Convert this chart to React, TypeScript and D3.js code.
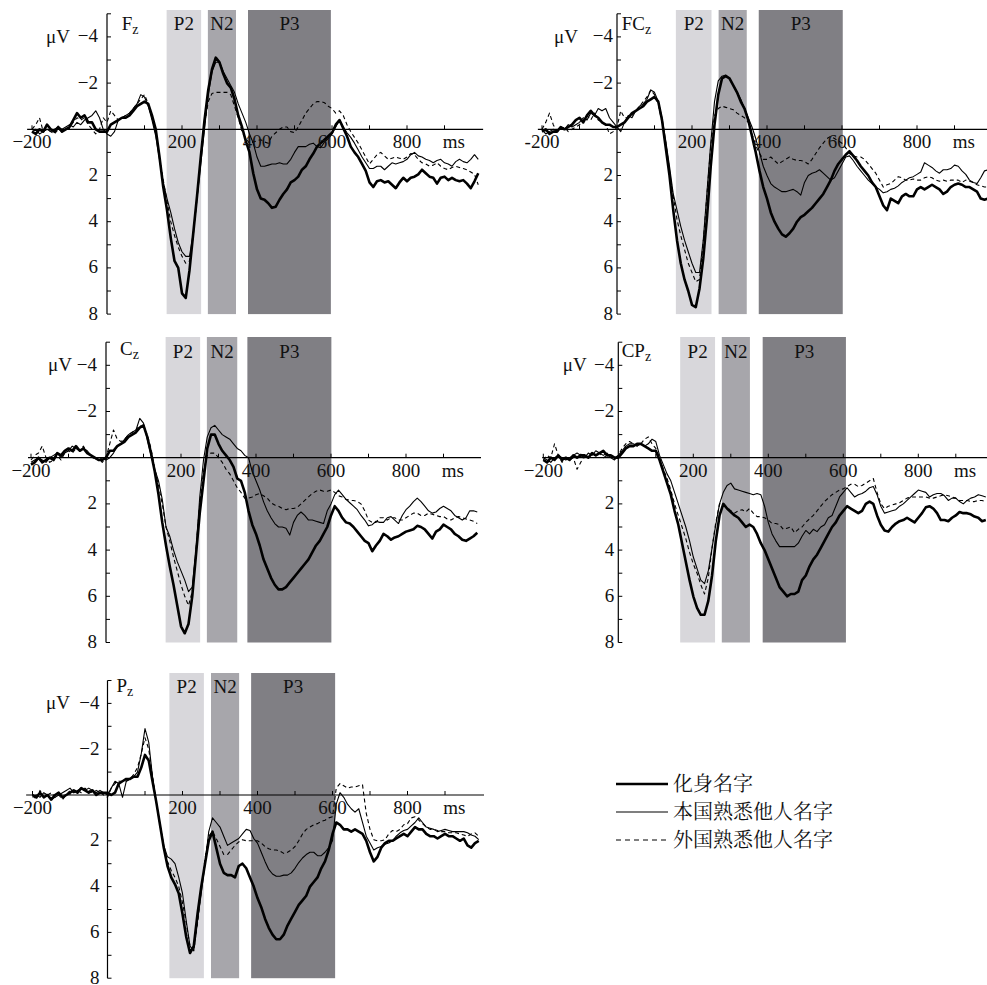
import * as d3 from "d3";

// sample grid of the averaged waveforms (ms)
const sampleTimes = d3.range(-200, 1000, 10);

const conditions = ["化身名字", "本国熟悉他人名字", "外国熟悉他人名字"];
const yTickLabels = [-4, -2, 2, 4, 6, 8];
const xTickLabels = [-200, 200, 400, 600, 800];
const bandNames = ["P2", "N2", "P3"];

// ---- Fz ----
const fzAvatar = [
  0.1, 0.2, 0.0, 0.1, -0.2, 0.0, 0.1, -0.1, 0.1, 0.0,
  -0.1, -0.4, -0.7, -0.5, -0.6, -0.3, -0.3, 0.0, 0.1, 0.1,
  0.1, -0.2, -0.3, -0.4, -0.5, -0.5, -0.6, -0.8, -1.0, -1.1,
  -1.2, -1.1, -0.6, 0.0, 1.2, 2.5, 3.5, 4.7, 5.7, 6.0,
  7.1, 7.3, 6.1, 4.5, 2.9, 1.2, -0.4, -1.7, -2.6, -3.1,
  -2.9, -2.4, -2.0, -1.8, -1.3, -0.6, -0.1, 0.5, 1.0, 1.9,
  2.6, 3.0, 3.05, 3.2, 3.4, 3.35, 3.05, 2.8, 2.6, 2.3,
  2.2, 2.05, 1.75, 1.6, 1.3, 1.05, 0.75, 0.6, 0.45, 0.3,
  0.15, -0.2, -0.4, -0.05, 0.3, 0.75, 1.0, 1.2, 1.5, 1.8,
  2.3, 2.5, 2.25, 2.2, 2.3, 2.25, 2.4, 2.55, 2.3, 2.1,
  2.25, 2.1, 2.05, 1.95, 1.75, 1.9, 2.05, 2.1, 2.35, 2.1,
  2.05, 2.2, 2.1, 2.2, 2.25, 2.2, 2.35, 2.55, 2.25, 1.9,
];
const fzNative = [
  0.1, 0.0, 0.2, 0.1, 0.0, 0.1, 0.0, -0.1, 0.0, -0.1,
  -0.2, -0.1, -0.3, -0.2, -0.4, -0.5, -0.6, -0.8, -0.5, 0.0,
  0.2, 0.3, 0.1, -0.4, -0.5, -0.6, -0.7, -0.9, -1.1, -1.5,
  -1.4, -1.0, -0.4, 0.3, 1.3, 2.3, 3.0, 3.6, 4.3, 4.9,
  5.3, 5.5, 5.5, 4.5, 3.0, 1.5, 0.0, -1.5, -2.5, -2.9,
  -2.9, -2.5, -2.2, -1.9, -1.6, -1.1, -0.7, -0.3, 0.2, 0.6,
  1.2, 1.6, 1.6, 1.55, 1.5, 1.5, 1.45, 1.5, 1.5, 1.3,
  1.0, 0.75, 0.75, 0.75, 0.65, 0.6, 0.75, 0.8, 0.55, 0.4,
  0.2, -0.1, -0.4, -0.1, 0.15, 0.35, 0.6, 0.9, 1.2, 1.45,
  1.7, 1.7, 1.6, 1.6, 1.75, 1.6, 1.45, 1.5, 1.45, 1.4,
  1.3, 1.1, 1.0, 1.15, 1.2, 1.3, 1.35, 1.45, 1.35, 1.3,
  1.45, 1.5, 1.6, 1.4, 1.3, 1.4, 1.45, 1.3, 1.1, 1.3,
];
const fzForeign = [
  0.0, -0.2, -0.5, 0.1, 0.0, 0.1, 0.2, 0.0, 0.1, 0.0,
  -0.1, -0.3, -0.5, -0.4, -0.5, -0.2, 0.0, 0.2, 0.0, -0.5,
  -0.3, -0.8, -0.6, -0.4, -0.5, -0.6, -0.7, -0.9, -1.1, -1.3,
  -1.5, -1.1, -0.5, 0.2, 1.2, 2.2, 3.1, 4.0, 4.6, 5.1,
  5.5, 5.8, 5.7, 4.6, 3.0, 1.3, -0.2, -1.2, -1.55, -1.6,
  -1.6, -1.6, -1.6, -1.5, -1.0, -0.5, 0.1, 0.4, 0.6, 0.55,
  0.5, 0.45, 0.55, 0.6, 0.3, 0.15, 0.0, -0.1, -0.1, 0.1,
  0.15, -0.1, -0.4, -0.7, -0.9, -1.1, -1.2, -1.2, -1.15, -1.0,
  -0.9, -0.7, -0.8, -0.6, -0.2, 0.1, 0.35, 0.6, 0.9, 1.2,
  1.5, 1.3, 1.1, 1.0, 1.15, 1.3, 1.25, 1.2, 1.25, 1.3,
  1.2, 1.05, 1.1, 1.3, 1.45, 1.5, 1.6, 1.55, 1.45, 1.6,
  1.7, 1.75, 1.65, 1.6, 1.65, 1.7, 1.75, 1.85, 1.95, 2.4,
];

// ---- FCz ----
const fczAvatar = [
  0.1, 0.0, 0.2, 0.1, 0.1, -0.1, 0.0, -0.1, -0.2, -0.4,
  -0.5, -0.3, -0.6, -0.8, -0.6, -0.5, -0.3, -0.2, -0.2, -0.1,
  -0.1, -0.2, -0.3, -0.5, -0.7, -0.8, -0.9, -1.0, -1.2, -1.3,
  -1.4, -1.2, -0.4, 0.8, 2.0, 3.5, 4.8, 5.8, 6.5, 7.0,
  7.6, 7.7, 6.9, 5.6, 3.8, 1.6, -0.2, -1.5, -2.2, -2.3,
  -2.2, -1.9, -1.6, -1.2, -0.9, -0.4, 0.3, 1.0, 1.8, 2.5,
  3.0, 3.6, 4.0, 4.3, 4.55, 4.65, 4.5, 4.3, 4.0, 3.8,
  3.7, 3.55, 3.4, 3.2, 3.0, 2.8, 2.5, 2.2, 1.8, 1.5,
  1.3, 1.1, 0.95, 1.15, 1.35, 1.6, 1.8, 2.0, 2.3, 2.5,
  2.9, 3.3, 3.5, 3.0, 3.1, 3.2, 2.9, 2.8, 2.9, 2.9,
  2.6, 2.5, 2.6, 2.5, 2.4, 2.5, 2.6, 2.8, 2.7, 2.5,
  2.4, 2.35, 2.4, 2.5, 2.5, 2.6, 2.7, 3.0, 3.05, 3.0,
];
const fczNative = [
  0.0, 0.2, 0.1, 0.0, 0.1, -0.1, 0.0, -0.2, -0.1, -0.2,
  -0.3, -0.5, -0.4, -0.7, -0.6, -0.9, -0.8, -0.9, -0.5, -0.3,
  -0.1, 0.1, -0.3, -0.6, -0.5, -0.8, -1.0, -1.1, -1.3, -1.7,
  -1.6, -1.2, -0.5, 0.5, 1.6, 2.8, 3.5, 4.2, 4.8, 5.3,
  5.8, 6.2, 6.2, 4.8, 2.7, 0.6, -1.2, -2.1, -2.3, -2.35,
  -2.2, -1.9, -1.6, -1.3, -0.9, -0.5, -0.1, 0.4, 1.0, 1.6,
  2.0, 2.35, 2.5, 2.6, 2.7, 2.7, 2.65, 2.6, 2.7, 2.85,
  2.3, 2.0, 1.9, 1.85, 1.75, 1.9, 2.05, 2.2, 2.1, 1.8,
  1.5, 1.2, 1.15, 1.35, 1.6, 1.8, 2.0, 2.2, 2.35, 2.5,
  2.6, 2.75, 2.7, 2.6, 2.55, 2.45, 2.3, 2.2, 2.1, 2.05,
  1.95, 1.85, 1.45, 1.55, 1.65, 1.8, 1.9, 1.75, 1.75, 1.7,
  1.55, 1.6, 1.8, 1.95, 2.2, 2.3, 2.35, 2.1, 1.8, 1.75,
];
const fczForeign = [
  0.0, -0.3, -0.7, -0.2, 0.1, 0.0, -0.1, 0.1, 0.0, -0.1,
  -0.2, -0.4, -0.6, -0.4, -0.7, -0.4, -0.3, -0.2, 0.2, 0.1,
  -0.1, -0.8, -0.5, -0.5, -0.6, -0.8, -1.0, -1.2, -1.4, -1.7,
  -1.5, -1.1, -0.3, 0.6, 1.8, 2.9, 3.9, 4.6, 5.2, 5.8,
  6.2, 6.6, 6.5, 4.9, 2.8, 0.7, -0.6, -0.9, -1.0, -0.95,
  -0.9, -0.85, -0.7, -0.6, -0.5, -0.3, 0.2, 0.7, 1.05, 1.3,
  1.3, 1.2, 1.35, 1.5, 1.4, 1.3, 1.2, 1.3, 1.35, 1.35,
  1.4, 1.5, 1.3, 1.05, 0.8, 0.6, 0.4, 0.3, 0.4, 0.5,
  0.6, 0.8, 1.05, 1.15, 1.2, 1.2, 1.3, 1.5, 1.7, 1.9,
  2.2, 2.5, 2.4, 2.35, 2.2, 2.05, 2.1, 2.2, 2.2, 2.15,
  2.2, 2.2, 2.1, 2.05, 2.1, 2.2, 2.25, 2.2, 2.25, 2.2,
  2.2, 2.2, 2.3, 2.2, 2.25, 2.3, 2.4, 2.45, 2.5, 2.5,
];

// ---- Cz ----
const czAvatar = [
  0.3, 0.2, 0.0, 0.2, 0.1, 0.0, 0.1, -0.2, -0.1, -0.3,
  -0.4, -0.3, -0.5, -0.3, -0.4, -0.2, -0.1, 0.0, 0.1, 0.1,
  0.0, -0.3, -0.3, -0.5, -0.6, -0.7, -0.9, -1.0, -1.1, -1.3,
  -1.4, -0.9, -0.2, 0.6, 1.6, 2.8, 3.8, 4.7, 5.5, 6.4,
  7.3, 7.6, 7.2, 6.0, 4.2, 2.4, 1.0, -0.4, -1.0, -1.0,
  -0.6, -0.3, -0.1, 0.1, 0.4, 0.9, 1.0, 1.5, 2.3, 2.9,
  3.3, 3.8, 4.4, 4.8, 5.2, 5.5, 5.7, 5.7, 5.6, 5.4,
  5.2, 5.0, 4.8, 4.6, 4.4, 4.1, 3.8, 3.6, 3.3, 3.0,
  2.5, 2.1, 2.3, 2.6, 2.8, 2.85, 3.0, 3.2, 3.4, 3.6,
  3.7, 4.05, 3.8, 3.6, 3.3, 3.4, 3.55, 3.45, 3.4, 3.3,
  3.2, 3.15, 3.1, 2.95, 3.0, 3.1, 3.3, 3.5, 3.2, 3.1,
  2.9, 3.0, 3.1, 3.3, 3.4, 3.55, 3.6, 3.5, 3.4, 3.25,
];
const czNative = [
  0.2, 0.1, 0.0, 0.1, 0.2, 0.0, -0.1, -0.2, 0.0, -0.2,
  -0.3, -0.5, -0.4, -0.3, -0.4, -0.3, -0.1, 0.0, 0.1, 0.0,
  0.1, 0.0, -0.2, -0.5, -0.6, -0.8, -1.0, -1.1, -1.2, -1.7,
  -1.5, -0.8, -0.1, 0.5, 1.0, 1.8, 3.0, 3.4, 4.0, 4.5,
  4.9, 5.3, 5.8, 5.6, 4.0, 1.7, 0.1, -0.9, -1.3, -1.4,
  -1.2, -1.0, -0.9, -0.8, -0.6, -0.4, -0.3, -0.1, 0.0, 0.6,
  1.0, 1.4, 1.9, 2.3, 2.6, 2.85, 3.0, 3.0, 3.05, 3.35,
  2.8, 2.5, 2.35, 2.5, 2.7, 2.7, 2.75, 2.8, 2.85, 2.3,
  2.0, 1.6, 1.4, 1.6, 1.8, 1.95, 2.1, 2.25, 2.5, 2.7,
  2.95, 2.9, 2.75, 2.8, 2.8, 2.6, 2.55, 2.7, 2.85, 2.5,
  2.25, 2.1, 1.9, 1.75, 1.9, 2.1, 2.3, 2.4, 2.35, 2.2,
  2.1, 2.2, 2.3, 2.5, 2.6, 2.7, 2.6, 2.3, 2.3, 2.35,
];
const czForeign = [
  0.1, -0.1, -0.2, -0.5, 0.0, 0.2, 0.1, -0.1, 0.1, -0.2,
  -0.3, -0.2, -0.4, -0.3, -0.5, -0.2, -0.1, 0.1, 0.0, 0.2,
  0.0, -0.6, -1.2, -0.8, -0.7, -0.8, -1.0, -1.1, -1.2, -1.4,
  -1.3, -1.0, -0.4, 0.5, 1.2, 2.0, 3.0, 3.6, 4.3, 4.9,
  5.5, 6.0, 6.4, 5.8, 4.0, 2.0, 0.6, -0.1, -0.2, -0.2,
  0.0, 0.2, 0.5, 0.7, 1.0, 1.3, 1.5, 1.75, 1.75, 1.7,
  1.6, 1.55, 1.65, 1.75, 1.95, 2.05, 2.1, 2.2, 2.25, 2.2,
  2.2, 2.15, 2.0, 1.85, 1.7, 1.55, 1.45, 1.4, 1.45, 1.45,
  1.4, 1.5, 1.65, 1.7, 1.8, 1.85, 1.85, 1.9, 2.0, 2.3,
  2.7, 2.8, 2.8, 2.6, 2.6, 2.7, 2.6, 2.6, 2.7, 2.7,
  2.6, 2.5, 2.4, 2.4, 2.5, 2.5, 2.4, 2.45, 2.5, 2.55,
  2.55, 2.65, 2.7, 2.6, 2.55, 2.6, 2.65, 2.7, 2.75, 2.85,
];

// ---- CPz ----
const cpzAvatar = [
  0.1, 0.2, 0.0, 0.1, -0.1, 0.1, 0.0, 0.1, -0.1, 0.0,
  -0.1, -0.1, 0.0, -0.2, -0.1, -0.2, -0.3, -0.1, -0.1, 0.0,
  0.0, -0.2, -0.4, -0.5, -0.5, -0.6, -0.6, -0.5, -0.4, -0.3,
  -0.3, 0.1, 0.6, 1.1, 1.6, 2.3, 2.9, 3.7, 4.5, 5.3,
  6.0, 6.5, 6.8, 6.8, 6.2, 5.1, 3.6, 2.5, 2.0, 2.2,
  2.35, 2.5, 2.6, 2.8, 3.0, 2.9, 3.0, 3.3, 3.7, 4.0,
  4.4, 4.8, 5.2, 5.6, 5.8, 6.0, 5.9, 5.9, 5.8, 5.3,
  5.1, 4.7, 4.4, 4.2, 3.9, 3.6, 3.3, 3.0, 2.8, 2.5,
  2.3, 2.1, 2.2, 2.3, 2.4, 2.3, 2.0, 1.9, 2.0, 2.5,
  2.9, 3.15, 3.2, 3.0, 2.85, 2.75, 2.7, 2.6, 2.7, 2.8,
  2.6, 2.4, 2.15, 2.1, 2.2, 2.4, 2.7, 2.7, 2.75, 2.6,
  2.5, 2.35, 2.4, 2.4, 2.45, 2.55, 2.6, 2.75, 2.7,
];
const cpzNative = [
  0.0, 0.1, 0.2, 0.0, -0.1, 0.0, 0.1, 0.0, -0.1, -0.2,
  -0.1, 0.0, -0.2, -0.1, -0.3, -0.2, -0.1, -0.2, 0.0, 0.1,
  -0.1, -0.3, -0.5, -0.6, -0.6, -0.5, -0.6, -0.5, -0.6, -0.8,
  -0.7, -0.1, 0.3, 0.7, 1.0, 1.5, 2.0, 2.5, 3.0, 3.6,
  4.3, 4.8, 5.3, 5.45, 4.9, 3.9, 2.9, 2.0, 1.5, 1.2,
  1.1, 1.35, 1.4, 1.45, 1.5, 1.55, 1.6, 1.55, 1.6, 2.1,
  2.8, 3.3, 3.6, 3.85, 3.85, 3.85, 3.85, 3.85, 3.7, 3.4,
  3.15, 3.3, 3.1, 3.2, 3.0, 2.9, 2.6, 2.5, 2.1, 1.7,
  1.5, 1.3, 1.5, 1.7, 1.6, 1.55, 1.45, 1.3, 1.25, 1.6,
  2.1, 2.4, 2.35, 2.3, 2.25, 2.1, 2.0, 1.85, 1.7, 1.55,
  1.4, 1.45, 1.5, 1.7, 1.6, 1.55, 1.55, 1.65, 1.85, 1.75,
  1.75, 1.9, 2.0, 1.85, 1.75, 1.7, 1.6, 1.65, 1.7,
];
const cpzForeign = [
  0.1, -0.1, 0.0, -0.6, -0.1, 0.2, 0.0, 0.1, 0.0, 0.5,
  0.2, -0.1, 0.0, -0.2, -0.1, -0.2, 0.0, -0.1, -0.1, 0.0,
  -0.1, -0.4, -0.6, -0.7, -0.6, -0.5, -0.6, -0.8, -0.9, -0.6,
  -0.4, 0.0, 0.5, 0.9, 1.4, 2.0, 2.5, 3.0, 3.5, 4.1,
  4.6, 5.0, 5.5, 5.9, 5.2, 3.9, 2.8, 2.0, 2.0, 2.15,
  2.3, 2.4, 2.3, 2.25, 2.35, 2.2, 2.4, 2.55, 2.55, 2.6,
  2.7, 2.85, 2.85, 2.9, 3.1, 3.05, 3.0, 3.25, 3.1, 3.0,
  2.8, 2.65, 2.5, 2.3, 2.1, 1.9, 1.75, 1.6, 1.5, 1.4,
  1.35, 1.25, 1.15, 1.15, 1.25, 1.2, 1.1, 1.0, 0.9, 1.5,
  2.0, 2.2, 2.1, 2.05, 2.0, 1.95, 1.85, 1.75, 1.7, 1.7,
  1.7, 1.7, 1.7, 1.75, 1.75, 1.7, 1.65, 1.6, 1.65, 1.7,
  1.75, 1.85, 1.85, 1.85, 1.9, 1.9, 1.85, 1.85, 1.9,
];

// ---- Pz ----
const pzAvatar = [
  0.0, 0.1, -0.1, 0.1, 0.0, 0.2, 0.0, -0.1, 0.1, 0.0,
  -0.1, -0.2, -0.1, -0.3, -0.2, -0.1, -0.2, 0.0, -0.1, -0.1,
  -0.1, 0.0, -0.1, -0.5, -0.6, -0.7, -0.7, -0.8, -0.8, -1.2,
  -1.75, -1.5, -0.6, 0.3, 1.3, 2.3, 3.1, 3.6, 3.9, 4.3,
  5.2, 6.2, 6.9, 6.6, 5.2, 4.0, 3.0, 2.0, 1.6, 2.3,
  3.0, 3.4, 3.5, 3.5, 3.6, 3.1, 3.0, 3.2, 3.6, 4.0,
  4.5, 4.9, 5.4, 5.8, 6.1, 6.3, 6.3, 6.1, 5.7, 5.4,
  5.1, 4.8, 4.6, 4.4, 4.0, 3.8, 3.6, 3.2, 2.9, 2.4,
  1.7, 1.2, 1.3, 1.5, 1.5, 1.6, 1.5, 1.6, 1.7, 2.0,
  2.5, 2.9, 2.7, 2.3, 2.1, 2.0, 2.0, 1.9, 1.8, 1.7,
  1.8, 1.6, 1.4, 1.5, 1.5, 1.7, 1.8, 1.8, 1.9, 1.8,
  1.7, 1.8, 1.8, 1.9, 2.0, 1.9, 2.2, 2.3, 2.1, 2.0,
];
const pzNative = [
  0.1, 0.0, 0.1, -0.1, 0.0, 0.2, 0.1, 0.0, -0.1, -0.2,
  -0.3, -0.1, -0.2, -0.3, -0.2, -0.3, -0.2, -0.1, -0.2, -0.1,
  0.0, -0.3, -0.6, -0.5, 0.1, -0.6, -0.7, -0.8, -1.0, -1.8,
  -2.9, -2.3, -0.8, 0.3, 1.3, 2.2, 2.7, 2.8, 3.0, 3.6,
  4.3, 5.5, 6.6, 6.8, 5.5, 4.3, 3.0, 1.6, 1.0, 1.2,
  1.4, 1.8, 2.2, 2.1, 2.0, 1.9, 1.7, 1.5, 1.55, 1.9,
  2.1, 2.5, 2.9, 3.25, 3.45, 3.55, 3.55, 3.5, 3.5, 3.4,
  3.2, 2.95, 2.75, 2.6, 2.5, 2.5, 2.65, 2.65, 2.5, 2.3,
  2.0, 0.4, -0.1, 0.1, 0.4, 0.6, 0.75, 0.6, 1.2, 1.8,
  2.1, 2.4, 2.3, 2.25, 2.15, 2.1, 2.0, 1.8, 1.65, 1.55,
  1.5, 1.35, 1.2, 1.0, 1.2, 1.4, 1.45, 1.5, 1.6, 1.55,
  1.5, 1.55, 1.6, 1.6, 1.6, 1.6, 1.65, 1.75, 1.8, 1.95,
];
const pzForeign = [
  0.0, 0.2, -0.2, 0.1, 0.0, -0.1, 0.1, 0.0, 0.2, 0.0,
  -0.2, -0.1, -0.2, -0.1, -0.3, -0.2, -0.1, -0.2, -0.1, 0.0,
  0.1, -0.3, -0.5, -0.6, -0.6, -0.6, -0.7, -0.9, -1.2, -1.8,
  -2.5, -2.0, -0.8, 0.3, 1.3, 2.3, 2.9, 3.3, 3.6, 4.0,
  4.7, 5.6, 6.6, 6.8, 5.6, 4.1, 2.8, 1.8, 1.6, 1.9,
  2.25, 2.6, 2.6, 2.4, 2.2, 2.05, 1.95, 2.0, 2.0, 2.0,
  2.0, 2.1, 2.25, 2.35, 2.4, 2.4, 2.45, 2.55, 2.5, 2.4,
  2.25, 2.0, 1.7, 1.5, 1.4, 1.3, 1.25, 1.15, 1.1, 1.0,
  0.95, -0.3, -0.5, -0.4, -0.3, -0.35, -0.35, -0.4, -0.45, 0.8,
  1.5, 1.95, 2.0, 2.0, 1.95, 1.7, 1.55, 1.6, 1.5, 1.3,
  1.25, 1.0, 0.95, 1.1, 1.25, 1.4, 1.5, 1.5, 1.55, 1.6,
  1.6, 1.65, 1.65, 1.65, 1.7, 1.75, 1.8, 1.7, 1.65, 1.8,
];

// component windows (ms) per electrode: P2, N2, P3
const fzBands = [[159, 251], [269, 344], [376, 597]];
const fczBands = [[157, 252], [271, 346], [378, 602]];
const czBands = [[159, 251], [269, 350], [377, 601]];
const cpzBands = [[165, 258], [276, 351], [385, 607]];
const pzBands = [[165, 257], [276, 351], [383, 607]];

// layout: x0 = pixel of 0 ms, y0 = pixel of 0 µV
const panels = [
  { el: "F", sub: "z", x0: 107, y0: 129.3, ys: 23.1, top: 10, xFrom: -213, xTo: 1003, bands: fzBands, series: [fzAvatar, fzNative, fzForeign], uvEnd: 37, gap: 9, labX: 14.7, labDy: 16, bandDy: 16, neg: "−" },
  { el: "FC", sub: "z", x0: 617, y0: 129.3, ys: 23.1, top: 10, xFrom: -211, xTo: 1000, bands: fczBands, series: [fczAvatar, fczNative, fczForeign], uvEnd: 39, gap: 4, labX: 4.7, labDy: 16, bandDy: 16, neg: "-" },
  { el: "C", sub: "z", x0: 106, y0: 457.7, ys: 23.1, top: 337, xFrom: -208, xTo: 1000, bands: czBands, series: [czAvatar, czNative, czForeign], uvEnd: 34, gap: 9, labX: 14, labDy: 13, bandDy: 16, neg: "−" },
  { el: "CP", sub: "z", x0: 618.3, y0: 457.7, ys: 23.1, top: 337, xFrom: -203, xTo: 1000, bands: cpzBands, series: [cpzAvatar, cpzNative, cpzForeign], uvEnd: 31.6, gap: 4, labX: 3.4, labDy: 14.5, bandDy: 16, neg: "−" },
  { el: "P", sub: "z", x0: 107.5, y0: 795, ys: 22.9, top: 673, xFrom: -217, xTo: 1004, bands: pzBands, series: [pzAvatar, pzNative, pzForeign], uvEnd: 37.5, gap: 8, labX: 9, labDy: 11, bandDy: 12.5, neg: "−" },
];

const bandFill = ["#d8d7db", "#a7a6ab", "#807f84"];
const lineStyle = [
  { w: 2.6, dash: "" },
  { w: 1.1, dash: "" },
  { w: 1.1, dash: "4,3" },
];
const serif = "Liberation Serif, Times New Roman, serif";
const fs = 19;

const Panel = ({ p }: { p: (typeof panels)[number] }) => {
  const x = d3.scaleLinear().domain([0, 1000]).range([p.x0, p.x0 + 375]);
  const y = d3.scaleLinear().domain([-5, 8]).range([p.y0 - 5 * p.ys, p.y0 + 8 * p.ys]);
  const line = d3
    .line<number>()
    .x((_, i) => x(sampleTimes[i]))
    .y((v) => y(v));
  const right = Math.min(x(p.xTo), 987);
  const xTicks = d3.range(-200, 1000, 100).filter((t) => t !== 0 && x(t) < right - 2);
  const yTicks = d3.range(-5, 9, 1);
  return (
    <g>
      {p.bands.map((b, i) => (
        <g key={i}>
          <rect x={x(b[0])} y={p.top} width={x(b[1]) - x(b[0])} height={y(8) - p.top} fill={bandFill[i]} />
          <text x={(x(b[0]) + x(b[1])) / 2} y={y(-5) + p.bandDy} textAnchor="middle" fontSize={fs} fontFamily={serif} fill="#111">
            {bandNames[i]}
          </text>
        </g>
      ))}
      {/* axes */}
      <line x1={x(p.xFrom)} x2={right} y1={y(0)} y2={y(0)} stroke="#000" strokeWidth={1.2} />
      <line x1={x(0)} x2={x(0)} y1={y(-5)} y2={y(8)} stroke="#000" strokeWidth={1.2} />
      {xTicks.map((t) => (
        <line key={t} x1={x(t)} x2={x(t)} y1={y(0)} y2={y(0) - 4} stroke="#000" />
      ))}
      {yTicks.map((t) => (
        <line key={t} x1={x(0)} x2={x(0) + 4} y1={y(t)} y2={y(t)} stroke="#000" />
      ))}
      {p.series.map((s, i) => (
        <path
          key={i}
          d={line(s) ?? ""}
          fill="none"
          stroke="#000"
          strokeWidth={lineStyle[i].w}
          strokeDasharray={lineStyle[i].dash || undefined}
          strokeLinejoin="round"
        />
      ))}
      {/* tick labels */}
      {yTickLabels.map((t) => (
        <text key={t} x={x(0) - p.gap} y={y(t) + 5.5} textAnchor="end" fontSize={fs} fontFamily={serif} fill="#111">
          {t < 0 ? `−${-t}` : t}
        </text>
      ))}
      {xTickLabels.map((t) => (
        <text key={t} x={x(t)} y={y(0) + 19} textAnchor="middle" fontSize={fs} fontFamily={serif} fill="#111">
          {t < 0 ? `${p.neg}${-t}` : t}
        </text>
      ))}
      <text x={x(925)} y={y(0) + 19} textAnchor="middle" fontSize={fs} fontFamily={serif} fill="#111">
        ms
      </text>
      <text x={x(0) - p.uvEnd} y={y(-4) + 6} textAnchor="end" fontSize={fs} fontFamily={serif} fill="#111">
        μV
      </text>
      <text x={x(0) + p.labX} y={y(-5) + p.labDy} fontSize={fs} fontFamily={serif} fill="#111">
        {p.el}
        <tspan fontSize={14} dy={4}>
          {p.sub}
        </tspan>
      </text>
    </g>
  );
};

export default function App() {
  return (
    <svg width={987} height={985} style={{ position: "absolute", left: 0, top: 0, background: "#fff" }}>
      <rect width={987} height={985} fill="#fff" />
      {panels.map((p, i) => (
        <Panel key={i} p={p} />
      ))}
      {conditions.map((c, i) => (
        <g key={c}>
          <line
            x1={616}
            x2={668}
            y1={784 + i * 28}
            y2={784 + i * 28}
            stroke="#000"
            strokeWidth={i === 0 ? 2.6 : 1.1}
            strokeDasharray={i === 2 ? "5,4" : undefined}
          />
          <text x={673} y={784 + i * 28 + 7} fontSize={20} fontFamily="Noto Serif CJK SC, Noto Sans CJK SC, sans-serif" fill="#111">
            {c}
          </text>
        </g>
      ))}
    </svg>
  );
}
